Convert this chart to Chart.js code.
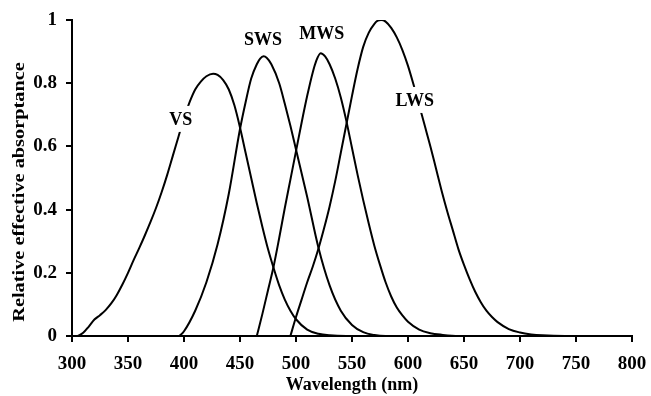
<!DOCTYPE html>
<html>
<head>
<meta charset="utf-8">
<script src="https://cdn.jsdelivr.net/npm/chart.js@4/dist/chart.umd.min.js"></script>
<style>
  html, body { margin: 0; padding: 0; background: #fff; }
  #wrap { width: 651px; height: 396px; position: relative; }
</style>
</head>
<body>
<div id="wrap"><canvas id="c" width="651" height="396"></canvas></div>
<script>
// ---- Data ----
const vsWavelength  = [305, 310, 315, 320, 325, 330, 335, 340, 345, 350, 355, 360, 365, 370, 375, 380, 385, 390, 395, 400, 405, 410, 415, 420, 426, 430, 435, 440, 445, 450, 455, 460, 465, 470, 475, 480, 485, 490, 495, 500, 510, 520, 530, 545, 800];
const vsValues      = [0, 0.01, 0.03, 0.052, 0.066, 0.082, 0.103, 0.13, 0.163, 0.20, 0.24, 0.278, 0.318, 0.36, 0.405, 0.455, 0.51, 0.57, 0.63, 0.69, 0.74, 0.78, 0.805, 0.822, 0.83, 0.826, 0.81, 0.78, 0.73, 0.66, 0.58, 0.50, 0.42, 0.345, 0.275, 0.215, 0.16, 0.115, 0.08, 0.053, 0.02, 0.007, 0.002, 0, 0];

const swsWavelength = [396, 400, 410, 420, 430, 440, 450, 455, 460, 465, 468, 471, 474, 478, 485, 490, 495, 500, 510, 520, 530, 540, 550, 560, 570, 580, 800];
const swsValues     = [0, 0.015, 0.08, 0.17, 0.29, 0.45, 0.655, 0.74, 0.815, 0.86, 0.878, 0.885, 0.88, 0.86, 0.80, 0.735, 0.665, 0.59, 0.44, 0.28, 0.16, 0.08, 0.035, 0.012, 0.003, 0, 0];

const mwsWavelength = [465, 470, 475, 480, 485, 490, 495, 500, 505, 510, 515, 518, 522, 526, 530, 535, 540, 545, 550, 555, 560, 565, 570, 575, 580, 585, 590, 595, 600, 610, 620, 630, 645, 800];
const mwsValues     = [0, 0.07, 0.145, 0.22, 0.31, 0.405, 0.495, 0.585, 0.675, 0.76, 0.835, 0.87, 0.895, 0.885, 0.86, 0.815, 0.755, 0.68, 0.595, 0.51, 0.43, 0.355, 0.285, 0.225, 0.17, 0.125, 0.09, 0.065, 0.045, 0.02, 0.009, 0.004, 0, 0];

const lwsWavelength = [495, 500, 505, 510, 515, 520, 525, 530, 535, 540, 545, 550, 555, 560, 565, 570, 573, 576, 580, 585, 590, 595, 600, 605, 610, 615, 620, 625, 630, 635, 640, 645, 650, 655, 660, 665, 670, 675, 680, 690, 700, 710, 720, 740, 800];
const lwsValues     = [0, 0.06, 0.115, 0.17, 0.22, 0.276, 0.34, 0.41, 0.49, 0.58, 0.67, 0.76, 0.845, 0.915, 0.96, 0.988, 0.998, 1.0, 0.995, 0.975, 0.945, 0.905, 0.855, 0.795, 0.73, 0.665, 0.60, 0.53, 0.46, 0.395, 0.335, 0.275, 0.225, 0.18, 0.14, 0.107, 0.08, 0.06, 0.044, 0.022, 0.011, 0.005, 0.002, 0, 0];

const seriesNames   = ['VS', 'SWS', 'MWS', 'LWS'];
const labelX        = [397, 470.5, 523, 606];
const labelY        = [0.687, 0.94, 0.957, 0.747];

const xTitle = 'Wavelength (nm)';
const yTitle = 'Relative effective absorptance';

// ---- Build datasets ----
function pts(xs, ys) { return xs.map((x, i) => ({ x: x, y: ys[i] })); }
const allX = [vsWavelength, swsWavelength, mwsWavelength, lwsWavelength];
const allY = [vsValues, swsValues, mwsValues, lwsValues];

const FONT = '"Liberation Serif", "Times New Roman", Times, serif';

const datasets = seriesNames.map((n, i) => ({
  label: n,
  data: pts(allX[i], allY[i]),
  borderColor: '#000',
  borderWidth: 2,
  pointRadius: 0,
  fill: false,
  cubicInterpolationMode: 'monotone'
}));

const curveLabels = {
  id: 'curveLabels',
  afterDatasetsDraw(chart) {
    const ctx = chart.ctx;
    const xs = chart.scales.x, ys = chart.scales.y;
    ctx.save();
    ctx.font = 'bold 18px ' + FONT;
    ctx.textAlign = 'center';
    ctx.textBaseline = 'middle';
    seriesNames.forEach((n, i) => {
      const px = xs.getPixelForValue(labelX[i]);
      const py = ys.getPixelForValue(labelY[i]);
      const w = ctx.measureText(n).width;
      ctx.fillStyle = '#fff';
      ctx.fillRect(px - w / 2 - 3, py - 13, w + 6, 26);
      ctx.fillStyle = '#000';
      ctx.fillText(n, px, py + 1);
    });
    ctx.restore();
  }
};

const stretchYTitle = {
  id: 'stretchYTitle',
  beforeDraw(chart) {
    const s = chart.scales.y;
    if (s && !s.__patched) {
      const orig = s.drawTitle;
      s.drawTitle = function () {
        const ctx = this.ctx;
        const cy = (chart.chartArea.top + chart.chartArea.bottom) / 2;
        ctx.save();
        ctx.translate(0, cy + 14);
        ctx.scale(1, 1.27);
        ctx.translate(0, -cy);
        orig.apply(this, arguments);
        ctx.restore();
      };
      s.__patched = true;
    }
  }
};

new Chart(document.getElementById('c'), {
  type: 'line',
  data: { datasets: datasets },
  options: {
    responsive: false,
    animation: false,
    devicePixelRatio: 1,
    layout: { padding: { left: 0, right: 19, top: 20, bottom: 0 } },
    plugins: { legend: { display: false }, tooltip: { enabled: false } },
    elements: { line: { borderCapStyle: 'round', borderJoinStyle: 'round' } },
    scales: {
      x: {
        type: 'linear',
        min: 300, max: 800,
        afterFit(scale) { scale.height = 60; scale.paddingLeft = 0; scale.paddingRight = 0; },
        ticks: { stepSize: 50, color: '#000', padding: 11, maxRotation: 0, autoSkip: false,
                 font: { family: FONT, size: 19, weight: 'bold' } },
        grid: { display: true, drawOnChartArea: false, drawTicks: true, tickLength: 6, color: '#000', lineWidth: 2 },
        border: { display: true, color: '#000', width: 2 },
        title: { display: true, text: xTitle, color: '#000', padding: { top: 0, bottom: 0 },
                 font: { family: FONT, size: 18, weight: 'bold' } }
      },
      y: {
        type: 'linear',
        min: 0, max: 1,
        afterFit(scale) { scale.width = 72; scale.paddingTop = 0; scale.paddingBottom = 0; },
        ticks: { stepSize: 0.2, color: '#000', padding: 9,
                 callback: (v) => String(Math.round(v * 10) / 10),
                 font: { family: FONT, size: 19, weight: 'bold' } },
        grid: { display: true, drawOnChartArea: false, drawTicks: true, tickLength: 6, color: '#000', lineWidth: 2 },
        border: { display: true, color: '#000', width: 2 },
        title: { display: true, text: yTitle, color: '#000', padding: { top: 10, bottom: 0 },
                 font: { family: FONT, size: 16, weight: 'bold' } }
      }
    }
  },
  plugins: [curveLabels, stretchYTitle]
});
</script>
</body>
</html>
